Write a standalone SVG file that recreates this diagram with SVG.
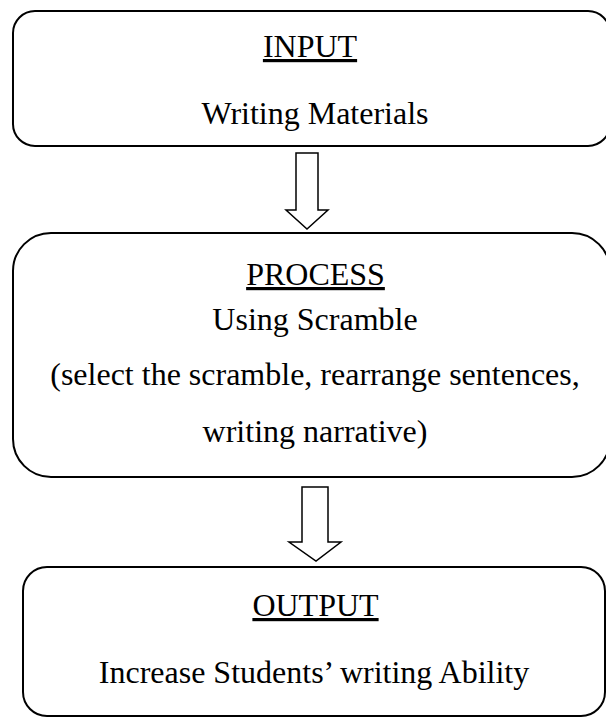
<svg xmlns="http://www.w3.org/2000/svg" width="606" height="717" viewBox="0 0 606 717">
<style>
.box{fill:#fff;stroke:#000;stroke-width:2}
.arr{fill:#fff;stroke:#000;stroke-width:1.5;stroke-linejoin:miter}
.t{font-size:32px;fill:#000;text-anchor:middle}
.u{text-decoration:underline}
</style>
<rect width="606" height="717" fill="#fff"/>
<g id="connectors">
<path class="arr" d="M296,153 H318 V210 H328 L307,229 L286,210 H296 Z"/>
<path class="arr" d="M302,487 H328 V542 H341 L316,561 L289,542 H302 Z"/>
</g>
<g id="input" font-family="'Liberation Serif', 'DejaVu Serif', serif">
<rect class="box" x="13" y="11" width="597" height="135" rx="22" ry="22"/>
<text class="t u" x="310" y="57">INPUT</text>
<text class="t" x="315" y="124">Writing Materials</text>
</g>
<g id="process" font-family="'Liberation Serif', 'DejaVu Serif', serif">
<rect class="box" x="13" y="233" width="597" height="244" rx="38" ry="38"/>
<text class="t u" x="315.5" y="285">PROCESS</text>
<text class="t" x="315" y="330">Using Scramble</text>
<text class="t" x="315" y="385">(select the scramble, rearrange sentences,</text>
<text class="t" x="315" y="442">writing narrative)</text>
</g>
<g id="output" font-family="'Liberation Serif', 'DejaVu Serif', serif">
<rect class="box" x="23" y="567" width="582" height="149" rx="24" ry="24"/>
<text class="t u" x="315.5" y="616">OUTPUT</text>
<text class="t" x="314" y="683">Increase Students’ writing Ability</text>
</g>
</svg>
